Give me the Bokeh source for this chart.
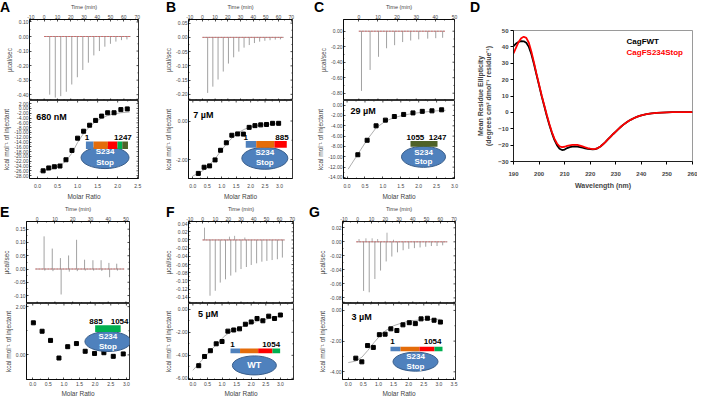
import math
from bokeh.plotting import figure
from bokeh.layouts import row, column
from bokeh.models import Range1d, FixedTicker, PrintfTickFormatter, Div
from bokeh.core.properties import value
from bokeh.embed import file_html
from bokeh.resources import INLINE

FONT = "Liberation Sans"
GREY = "#8a8a8a"
FITC = "#9a9a9a"
BASE_RED = "#e05555"
BLUE = "#4F81BD"; ORANGE = "#E46C0A"; RED = "#FF0000"; GREEN = "#00B050"; OLIVE = "#4F6228"
ELL_FILL = "#4F81BD"; ELL_LINE = "#385D8A"

# ---------------- data ----------------
TIME70_TICKS = [-10, 0, 10, 20, 30, 40, 50, 60, 70]
TIME50_TICKS = [0, 10, 20, 30, 40, 50]
RATIO25_TICKS = [0.0, 0.5, 1.0, 1.5, 2.0, 2.5]
RATIO30_TICKS = [0.0, 0.5, 1.0, 1.5, 2.0, 2.5, 3.0]
RATIO35_TICKS = [0.0, 0.5, 1.0, 1.5, 2.0, 2.5, 3.0, 3.5]

# Panel A
A_power_ticks = [0.10, 0.00, -0.10, -0.20, -0.30, -0.40]
A_heat_ticks = [2, 0, -2, -4, -6, -8, -10, -12, -14, -16, -18, -20, -22, -24, -26, -28]
A_inj_time = [4.2, 8.4, 12.5, 16.7, 20.8, 25.0, 29.1, 33.3, 37.4, 41.6, 45.7, 49.9, 54.0, 58.2, 62.3]
A_inj_peak = [-0.40, -0.42, -0.41, -0.38, -0.33, -0.28, -0.23, -0.18, -0.13, -0.10, -0.07, -0.05, -0.035, -0.025, -0.02]
A_base_time = [0, 65]
A_ratio = [0.14, 0.28, 0.42, 0.56, 0.71, 0.86, 1.00, 1.15, 1.30, 1.45, 1.60, 1.75, 1.91, 2.08, 2.24]
A_heat = [-26.0, -24.8, -24.3, -24.0, -21.4, -17.5, -12.4, -9.5, -7.0, -5.0, -3.2, -1.8, -1.8, -0.5, -0.2]
A_fit_ratio = [0.05, 0.14, 0.28, 0.42, 0.56, 0.71, 0.86, 1.00, 1.15, 1.30, 1.45, 1.60, 1.75, 1.90, 2.08, 2.30]
A_fit_heat = [-26.4, -26.2, -25.6, -24.9, -23.8, -21.9, -18.6, -14.2, -10.4, -7.6, -5.5, -4.0, -3.0, -2.3, -1.8, -1.5]

# Panel B
B_power_ticks = [0.05, 0.00, -0.05, -0.10, -0.15, -0.20]
B_heat_ticks = [0.0, -2.0]
B_inj_time = [4.1, 8.2, 12.3, 16.4, 20.5, 24.6, 28.7, 32.8, 36.9, 41.0, 45.1, 49.2, 53.3, 57.4, 61.5]
B_inj_peak = [-0.195, -0.173, -0.148, -0.120, -0.092, -0.070, -0.050, -0.036, -0.027, -0.020, -0.015, -0.012, -0.010, -0.008, -0.007]
B_base_time = [0, 64]
B_ratio = [0.19, 0.39, 0.58, 0.77, 0.96, 1.16, 1.35, 1.55, 1.75, 1.95, 2.15, 2.35, 2.55, 2.76, 2.97]
B_heat = [-2.72, -2.40, -2.33, -2.02, -1.52, -1.13, -0.74, -0.67, -0.68, -0.33, -0.24, -0.20, -0.18, -0.12, -0.12]
B_fit_ratio = [0.0, 0.2, 0.4, 0.6, 0.8, 1.0, 1.2, 1.4, 1.6, 1.8, 2.0, 2.3, 2.6, 3.0]
B_fit_heat = [-2.85, -2.72, -2.52, -2.25, -1.90, -1.50, -1.12, -0.82, -0.58, -0.42, -0.32, -0.22, -0.17, -0.13]

# Panel C
C_power_ticks = [0.00, -0.20, -0.40, -0.60, -0.80]
C_heat_ticks = [0, -2, -4, -6, -8, -10, -12, -14]
C_inj_time = [1.4, 5.9, 10.3, 14.5, 18.7, 22.9, 27.1, 31.3, 36.0, 40.2, 43.8]
C_inj_peak = [-0.77, -0.50, -0.33, -0.22, -0.18, -0.14, -0.12, -0.105, -0.096, -0.09, -0.085]
C_base_time = [0, 45]
C_ratio = [0.30, 0.56, 0.81, 1.07, 1.32, 1.58, 1.84, 2.10, 2.37, 2.64]
C_heat = [-9.6, -6.8, -4.0, -2.9, -2.2, -1.8, -1.5, -1.2, -1.1, -0.9]
C_fit_ratio = [0.03, 0.30, 0.56, 0.81, 1.07, 1.32, 1.60, 1.90, 2.20, 2.50, 2.75]
C_fit_heat = [-12.4, -9.5, -6.7, -4.4, -3.1, -2.4, -1.9, -1.55, -1.3, -1.1, -1.0]

# Panel D (CD spectra)
D_wavelength = [190, 191, 192, 193, 194, 195, 196, 197, 198, 199, 200, 201, 202, 203, 204, 205,
                206, 207, 208, 209, 210, 211, 212, 213, 214, 215, 216, 217, 218, 219, 220, 221,
                222, 223, 224, 225, 226, 227, 228, 229, 230, 231, 232, 233, 234, 235, 236, 237,
                238, 239, 240, 242, 244, 246, 248, 250, 252, 254, 256, 258, 260]
D_wt = [40.5, 42.0, 43.0, 43.5, 43.4, 42.5, 40.0, 35.5, 29.5, 23.0, 16.5, 10.0, 4.0, -2.0, -7.5, -12.5,
        -16.8, -20.0, -22.2, -23.0, -22.7, -21.8, -21.2, -20.9, -20.8, -20.9, -21.2, -21.6, -22.0, -22.3, -22.5, -22.6,
        -22.4, -21.8, -20.8, -19.5, -18.0, -16.4, -14.8, -13.2, -11.7, -10.2, -8.8, -7.5, -6.3, -5.3, -4.4, -3.6,
        -2.9, -2.3, -1.8, -1.1, -0.6, -0.3, -0.1, 0.0, 0.1, 0.1, 0.1, 0.1, 0.1]
D_stop = [36.0, 39.5, 43.0, 45.3, 46.2, 45.5, 42.5, 37.0, 30.5, 23.5, 17.0, 10.5, 4.5, -1.5, -7.0, -12.0,
          -16.0, -19.0, -20.7, -21.2, -21.0, -20.5, -20.1, -19.9, -19.8, -19.9, -20.3, -20.8, -21.3, -21.8, -22.2, -22.4,
          -22.3, -21.8, -20.8, -19.5, -18.0, -16.4, -14.8, -13.2, -11.7, -10.2, -8.8, -7.5, -6.3, -5.3, -4.4, -3.6,
          -2.9, -2.3, -1.8, -1.1, -0.6, -0.3, -0.1, 0.0, 0.1, 0.1, 0.1, 0.1, 0.1]
D_x_ticks = [190, 200, 210, 220, 230, 240, 250, 260]
D_y_ticks = [-30, -20, -10, 0, 10, 20, 30, 40, 50]

# Panel E
E_power_ticks = [0.15, 0.10, 0.05, 0.00, -0.05, -0.10]
E_heat_ticks = [2.0, 0.0]
E_inj_time = [3.9, 8.5, 13.1, 17.7, 22.2, 26.7, 31.4, 36.0, 40.4, 44.8]
E_inj_up = [0.123, 0.077, 0.041, 0.051, 0.110, 0.035, 0.033, 0.033, 0.023, 0.020]
E_inj_down = [-0.006, -0.008, -0.096, -0.010, -0.008, -0.006, -0.006, -0.007, -0.031, -0.006]
E_base_time = [-1, 49]
E_ratio = [0.02, 0.30, 0.57, 0.84, 1.12, 1.40, 1.68, 1.98, 2.28, 2.58, 2.90]
E_heat = [1.33, 0.98, 0.60, -0.13, 0.34, 0.47, 0.15, 0.06, 0.09, -0.06, 0.04]

# Panel F
F_power_ticks = [0.04, 0.02, 0.00, -0.02, -0.04, -0.06, -0.08, -0.10, -0.12, -0.14]
F_heat_ticks = [0, -2, -4, -6]
F_inj_time = [5.8, 9.9, 13.8, 17.9, 22.0, 25.9, 30.0, 34.2, 38.0, 42.2, 46.3, 50.2, 54.3, 58.4, 62.3]
F_inj_peak = [-0.136, -0.124, -0.104, -0.096, -0.087, -0.079, -0.071, -0.066, -0.061, -0.057, -0.053, -0.051, -0.049, -0.047, -0.043]
F_extra_time = [1.5, 21.0, 25.0, 33.0]
F_extra_peak = [0.030, 0.008, 0.010, 0.006]
F_base_time = [0, 64]
F_ratio = [0.2, 0.4, 0.6, 0.8, 1.0, 1.2, 1.4, 1.6, 1.8, 2.0, 2.2, 2.4, 2.6, 2.8, 3.0]
F_heat = [-4.9, -4.1, -3.6, -3.0, -2.8, -1.9, -1.8, -1.7, -1.3, -1.1, -0.8, -1.0, -0.6, -0.8, -0.5]
F_fit_ratio = [0.0, 0.3, 0.6, 0.9, 1.1, 1.3, 1.6, 2.0, 2.4, 2.8, 3.05]
F_fit_heat = [-5.3, -4.45, -3.6, -2.8, -2.3, -1.95, -1.6, -1.2, -0.92, -0.7, -0.6]

# Panel G
G_power_ticks = [0.02, 0.00, -0.02, -0.04, -0.06, -0.08]
G_heat_ticks = [0, -2, -4]
G_inj_time = [4.3, 8.4, 12.5, 16.6, 20.7, 24.8, 28.9, 33.0, 37.1, 41.2, 45.3, 49.4, 53.5, 57.6, 61.7]
G_inj_peak = [-0.070, -0.072, -0.053, -0.041, -0.028, -0.021, -0.015, -0.012, -0.010, -0.009, -0.008, -0.007, -0.006, -0.006, -0.005]
G_extra_time = [1.0, 6.0, 10.5, 14.5, 21.3, 26.0]
G_extra_peak = [0.004, 0.005, 0.005, 0.004, 0.013, 0.003]
G_base_time = [-1, 65]
G_ratio = [0.25, 0.45, 0.64, 0.83, 1.03, 1.22, 1.41, 1.61, 1.81, 2.02, 2.22, 2.41, 2.62, 2.84, 3.05]
G_heat = [-3.11, -3.35, -2.29, -2.41, -1.58, -1.55, -1.20, -1.31, -0.94, -0.80, -0.86, -0.55, -0.51, -0.64, -0.76]
G_fit_ratio = [0.0, 0.25, 0.45, 0.65, 0.85, 1.05, 1.25, 1.5, 1.8, 2.1, 2.5, 3.05]
G_fit_heat = [-3.4, -3.3, -3.05, -2.6, -2.1, -1.65, -1.3, -1.0, -0.8, -0.67, -0.6, -0.58]

KCAL = "kcal mol\u207b\u00b9 of injectant"


# ---------------- helpers ----------------
def mids(t):
    return [(a + b) / 2 for a, b in zip(t[:-1], t[1:])]


def style_axis(ax, ticks, fmt, label, label_size="6.5px", standoff=1, label_standoff=1):
    ax.ticker = FixedTicker(ticks=ticks, minor_ticks=mids(ticks))
    ax.formatter = PrintfTickFormatter(format=fmt)
    ax.major_label_text_font = FONT
    ax.major_label_text_font_size = "5px"
    ax.major_label_standoff = standoff
    ax.major_tick_in = 2
    ax.major_tick_out = 0
    ax.minor_tick_in = 1
    ax.minor_tick_out = 0
    ax.major_tick_line_width = 0.7
    ax.minor_tick_line_width = 0.6
    ax.axis_line_width = 0.8
    ax.axis_label = label
    ax.axis_label_text_font = FONT
    ax.axis_label_text_font_size = label_size
    ax.axis_label_text_font_style = "normal"
    ax.axis_label_standoff = label_standoff


def edge_ticks(p, ticks, fixed, side):
    # inward tick marks on the frame edges without labels
    for vals, ln in ((ticks, 2), (mids(ticks), 1)):
        n = len(vals)
        if side == "right":
            p.ray(x=[fixed] * n, y=vals, length=ln, angle=math.pi, length_units="screen",
                  line_color="black", line_width=0.7)
        elif side == "top":
            p.ray(x=vals, y=[fixed] * n, length=ln, angle=-math.pi / 2, length_units="screen",
                  line_color="black", line_width=0.7)
        else:
            p.ray(x=vals, y=[fixed] * n, length=ln, angle=math.pi / 2, length_units="screen",
                  line_color="black", line_width=0.7)


def base_fig(W, H, xr, yr, xloc, ml, mr, mt, mb):
    p = figure(width=W, height=H, x_range=Range1d(*xr), y_range=Range1d(*yr),
               x_axis_location=xloc, title=None, toolbar_location=None, output_backend="svg",
               min_border_left=ml, min_border_right=mr, min_border_top=mt, min_border_bottom=mb)
    p.xgrid.visible = False
    p.ygrid.visible = False
    p.outline_line_color = "black"
    p.outline_line_width = 0.8
    p.background_fill_color = "white"
    p.border_fill_color = "white"
    return p


def fpos(geom, dx, dy):
    W, H, xr, yr = geom
    return xr[0] + dx / W * (xr[1] - xr[0]), yr[1] - dy / H * (yr[1] - yr[0])


def txt(p, geom, dx, dy, s, size, color="black", align="left"):
    x, y = fpos(geom, dx, dy)
    p.text(x=[x], y=[y], text=[s], text_font=value(FONT), text_font_size=value(size),
           text_font_style="bold", text_color=color, text_align=align, text_baseline="middle")


def protein(p, geom, edges, dy0, dy1, colors, ell, label1, label2, lab_dy,
            ell_text=("S234", "Stop"), ell_dys=None, lab1_align="center"):
    ex, ey, ew, eh = ell
    cx, cy = fpos(geom, ex, ey)
    p.ellipse(x=[cx], y=[cy], width=[ew], height=[eh], width_units="screen", height_units="screen",
              fill_color=ELL_FILL, line_color=ELL_LINE, line_width=1.0)
    for i, c in enumerate(colors):
        xa, ya = fpos(geom, edges[i], dy0)
        xb, yb = fpos(geom, edges[i + 1], dy1)
        p.quad(left=[xa], right=[xb], top=[ya], bottom=[yb], fill_color=c, line_color=None)
    if label1:
        txt(p, geom, label1[0], lab_dy, label1[1], "8px", align=lab1_align)
    if label2:
        txt(p, geom, label2[0], lab_dy, label2[1], "8px", align="right")
    if len(ell_text) == 2:
        txt(p, geom, ex, ell_dys[0], ell_text[0], "8px", color="white", align="center")
        txt(p, geom, ex, ell_dys[1], ell_text[1], "8px", color="white", align="center")
    else:
        txt(p, geom, ex, ey, ell_text[0], "9px", color="white", align="center")


def letter_div(s, left, top, width):
    html = ('<span style="position:absolute; left:%dpx; top:%dpx; font-family:\'%s\'; '
            'font-size:14px; font-weight:bold; line-height:14px; color:#000; white-space:nowrap;">%s</span>'
            % (left, top, FONT, s))
    return Div(text=html, width=width, height=0, margin=(0, 0, 0, 0),
               styles={"position": "relative", "z-index": "10", "overflow": "visible"})


def itc(W, ml, mr, mt, fh_top, fh_bot, mb, t_range, p_range, r_range, h_range,
        t_ticks, p_ticks, r_ticks, h_ticks, base_time, inj_t, inj_h,
        ratio, heat, fit_r=None, fit_h=None, extra_t=None, extra_h=None, bot_standoff=2,
        bot_label_standoff=1):
    top = base_fig(W, mt + fh_top, t_range, p_range, "above", ml, mr, mt, 0)
    style_axis(top.xaxis[0], t_ticks, "%d", "Time (min)", "5.5px", 1, 2)
    style_axis(top.yaxis[0], p_ticks, "%.2f", "\u00b5cal/sec")
    edge_ticks(top, p_ticks, t_range[1], "right")
    edge_ticks(top, t_ticks, p_range[0], "bottom")
    top.line(base_time, [0, 0], line_color=GREY, line_width=0.8)
    top.segment(x0=inj_t, y0=[0] * len(inj_t), x1=inj_t, y1=inj_h, line_color=GREY, line_width=0.8)
    if extra_t:
        top.segment(x0=extra_t, y0=[0] * len(extra_t), x1=extra_t, y1=extra_h,
                    line_color=GREY, line_width=0.7)
    top.line(base_time, [0, 0], line_color=BASE_RED, line_width=0.7, line_dash="2 1")

    bot = base_fig(W, fh_bot + mb, r_range, h_range, "below", ml, mr, 0, mb)
    style_axis(bot.xaxis[0], r_ticks, "%.1f", "Molar Ratio", "6.5px", bot_standoff, bot_label_standoff)
    style_axis(bot.yaxis[0], h_ticks, "%.2f", KCAL)
    edge_ticks(bot, h_ticks, r_range[1], "right")
    edge_ticks(bot, r_ticks, h_range[1], "top")
    if fit_r:
        bot.line(fit_r, fit_h, line_color=FITC, line_width=0.8)
    bot.scatter(ratio, heat, marker="square", size=4, color="black")
    geom = (W - ml - mr, fh_bot, r_range, h_range)
    return top, bot, geom


# ---------------- row 1 ----------------
A_tr, A_pr, A_rr, A_hr = (-11, 71), (-0.44, 0.117), (-0.2, 2.52), (-29.2, 3.3)
A_top, A_bot, _ = itc(162, 24, 24, 17, 83, 81, 21, A_tr, A_pr, A_rr, A_hr,
                      TIME70_TICKS, A_power_ticks, RATIO25_TICKS, A_heat_ticks, A_base_time,
                      A_inj_time, A_inj_peak, A_ratio, A_heat, A_fit_ratio, A_fit_heat,
                      bot_standoff=5, bot_label_standoff=2)
gA = (114, 82, A_rr, A_hr)
txt(A_bot, gA, 7, 17, "680 nM", "9px")
protein(A_bot, gA, [59, 67, 82, 92, 97, 103], 43, 51, [BLUE, ORANGE, RED, GREEN, OLIVE],
        (79, 60, 48, 22), (60, "1"), (107, "1247"), 39, ell_dys=(54, 65))

B_tr, B_pr, B_rr, B_hr = (-11, 71), (-0.2216, 0.0627), (-0.15, 3.45), (-2.985, 1.065)
B_top, B_bot, _ = itc(150, 21, 20, 17, 83, 81, 21, B_tr, B_pr, B_rr, B_hr,
                      TIME70_TICKS, B_power_ticks, RATIO35_TICKS, B_heat_ticks, B_base_time,
                      B_inj_time, B_inj_peak, B_ratio, B_heat, B_fit_ratio, B_fit_heat,
                      bot_standoff=5, bot_label_standoff=2)
gB = (109, 81, B_rr, B_hr)
txt(B_bot, gB, 5, 15, "7 \u00b5M", "9px")
protein(B_bot, gB, [60, 71, 90, 103], 42, 49, [BLUE, ORANGE, RED],
        (80, 60, 46, 22), (60, "1"), (105, "885"), 38, ell_dys=(54.5, 64.5))

C_tr, C_pr, C_rr, C_hr = (-8, 50), (-0.894, 0.151), (-0.1, 3.0), (-14.2, 0.9)
C_top, C_bot, _ = itc(150, 31, 8, 17, 83, 81, 21, C_tr, C_pr, C_rr, C_hr,
                      TIME50_TICKS, C_power_ticks, RATIO30_TICKS, C_heat_ticks, C_base_time,
                      C_inj_time, C_inj_peak, C_ratio, C_heat, C_fit_ratio, C_fit_heat,
                      bot_standoff=5, bot_label_standoff=2)
gC = (111, 81, C_rr, C_hr)
txt(C_bot, gC, 7, 11, "29 \u00b5M", "9px")
protein(C_bot, gC, [67, 94], 42, 48, [OLIVE],
        (80, 58.5, 44, 21), (63, "1055"), (103, "1247"), 38.5, ell_dys=(53.5, 63.5),
        lab1_align="left")

D = base_fig(235, 202, (190, 260), (-30, 50), "below", 51, 5, 30, 41)
D.outline_line_color = "#808080"
for ax, ticks, lab in ((D.xaxis[0], D_x_ticks, "Wavelength (nm)"),
                       (D.yaxis[0], D_y_ticks,
                        "Mean Residue Ellipticity\n(degrees cm\u00b2 dmol\u207b\u00b9 residue\u207b\u00b9)")):
    ax.ticker = FixedTicker(ticks=ticks)
    ax.major_label_text_font = FONT
    ax.major_label_text_font_size = "6px"
    ax.major_label_text_font_style = "bold"
    ax.major_tick_in = 0
    ax.major_tick_out = 3
    ax.minor_tick_line_color = None
    ax.axis_line_color = "black"
    ax.axis_line_width = 0.8
    ax.axis_label = lab
    ax.axis_label_text_font = FONT
    ax.axis_label_text_font_size = "7px"
    ax.axis_label_text_font_style = "bold"
D.xaxis[0].major_label_standoff = 7
D.xaxis[0].axis_label_standoff = 3
D.yaxis[0].major_label_standoff = 2
D.yaxis[0].axis_label_standoff = 3
D.line(D_wavelength, D_wt, line_color="black", line_width=1.8)
D.line(D_wavelength, D_stop, line_color="red", line_width=1.8)
gD = (190, 131, (190, 260), (-30, 50))
txt(D, gD, 120, 11, "CagFWT", "8px", color="black")
txt(D, gD, 120, 22, "CagFS234Stop", "8px", color="red")

# ---------------- row 2 ----------------
E_tr, E_pr, E_rr, E_hr = (-6, 52), (-0.130, 0.179), (-0.2, 3.1), (-1.02, 2.13)
E_top, E_bot, _ = itc(162, 24, 33, 19, 82, 79, 17, E_tr, E_pr, E_rr, E_hr,
                      TIME50_TICKS, E_power_ticks, RATIO30_TICKS, E_heat_ticks, E_base_time,
                      E_inj_time, E_inj_up, E_ratio, E_heat)
E_top.segment(x0=[t + 0.4 for t in E_inj_time], y0=[0] * len(E_inj_time),
              x1=[t + 0.4 for t in E_inj_time], y1=E_inj_down, line_color=GREY, line_width=0.8)
gE = (105, 80, E_rr, E_hr)
protein(E_bot, gE, [70, 96], 23, 30, [GREEN],
        (83, 40, 46, 20), (64, "885"), (104, "1054"), 19, ell_dys=(34.5, 45), lab1_align="left")

F_tr, F_pr, F_rr, F_hr = (-11, 71), (-0.155, 0.045), (-0.15, 3.45), (-6.1, 0.5)
F_top, F_bot, _ = itc(144, 21, 13, 19, 82, 79, 17, F_tr, F_pr, F_rr, F_hr,
                      TIME70_TICKS, F_power_ticks, RATIO35_TICKS, F_heat_ticks, F_base_time,
                      F_inj_time, F_inj_peak, F_ratio, F_heat, F_fit_ratio, F_fit_heat,
                      F_extra_time, F_extra_peak)
gF = (110, 81, F_rr, F_hr)
txt(F_bot, gF, 10, 11, "5 \u00b5M", "9px")
protein(F_bot, gF, [44, 54, 73, 88, 96], 48, 53, [BLUE, ORANGE, RED, GREEN],
        (69, 66, 44, 19), (46, "1"), (96, "1054"), 44, ell_text=("WT",))

G_tr, G_pr, G_rr, G_hr = (-11, 71), (-0.088, 0.029), (-0.19, 3.55), (-4.5, 0.45)
G_top, G_bot, _ = itc(166, 36, 17, 19, 82, 79, 17, G_tr, G_pr, G_rr, G_hr,
                      TIME70_TICKS, G_power_ticks, RATIO35_TICKS, G_heat_ticks, G_base_time,
                      G_inj_time, G_inj_peak, G_ratio, G_heat, G_fit_ratio, G_fit_heat,
                      G_extra_time, G_extra_peak)
gG = (113, 81, G_rr, G_hr)
txt(G_bot, gG, 9, 14, "3 \u00b5M", "9px")
protein(G_bot, gG, [48, 58, 77, 92, 100], 46, 51, [BLUE, ORANGE, RED, GREEN],
        (73, 62, 45, 19), (50, "1"), (99, "1054"), 41, ell_dys=(57, 67))

layout = column(
    row(column(letter_div("A", 0, 0, 162), A_top, A_bot),
        column(letter_div("B", 4, 0, 150), B_top, B_bot),
        column(letter_div("C", 2, 0, 150), C_top, C_bot),
        column(letter_div("D", 8, 0, 235), D)),
    row(column(letter_div("E", 0, 3, 162), E_top, E_bot),
        column(letter_div("F", 4, 3, 144), F_top, F_bot),
        column(letter_div("G", 3, 3, 166), G_top, G_bot)),
)

open("out.html", "w").write(file_html(layout, INLINE))
